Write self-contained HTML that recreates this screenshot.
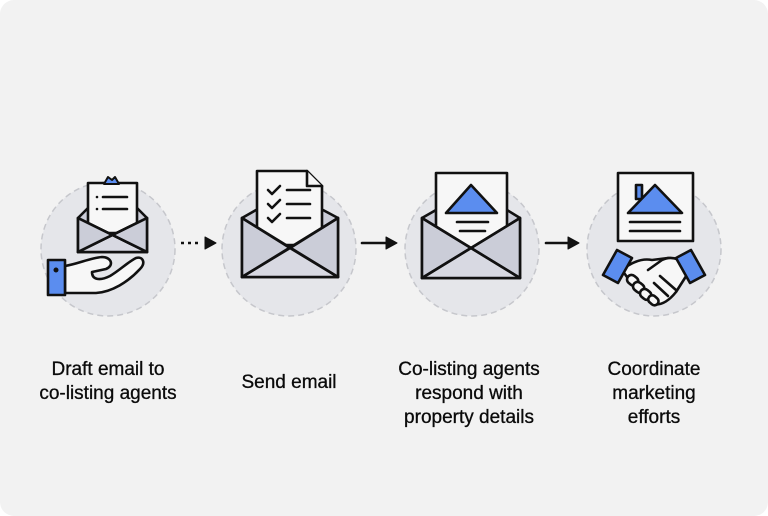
<!DOCTYPE html>
<html><head><style>
html,body{margin:0;padding:0;background:#fff}
.wrap{width:768px;height:516px;background:#f2f2f2;border-radius:14px;position:relative;overflow:hidden;font-family:"Liberation Sans",sans-serif}
svg{position:absolute;left:0;top:0}
.t{position:absolute;width:220px;text-align:center;font-size:19px;line-height:24px;color:#0a0a0a;-webkit-text-stroke:0.3px #0a0a0a}
</style></head><body><div class="wrap">
<svg width="768" height="516" viewBox="0 0 768 516">
<g fill="#e5e6ea" stroke="#c6c7cc" stroke-width="1.5" stroke-dasharray="6 4">
<circle cx="108" cy="249" r="67"/><circle cx="289" cy="249" r="67"/>
<circle cx="472" cy="249" r="67"/><circle cx="654" cy="249" r="67"/>
</g>
<g stroke="#111" stroke-width="2.6" stroke-linejoin="round" stroke-linecap="round">
<!-- icon1 -->
<polygon points="78,218 88,208 137,208 147,218 147,252 78,252" fill="#cbcdd8"/>
<rect x="88" y="183" width="49" height="50" fill="#f7f7f7"/>
<polygon points="104,184 108,177 112,180 115,177 119,184" fill="#5b8def" stroke-width="2"/>
<polygon points="78,218 112.5,235 147,218 147,252 78,252" fill="#cbcdd8"/>
<polygon points="78,252 112.5,235 147,252" fill="#d8d9e2"/>
<line x1="78" y1="218" x2="147" y2="252"/><line x1="147" y1="218" x2="78" y2="252"/>
<line x1="97" y1="197" x2="97" y2="197"/><line x1="103" y1="197" x2="127" y2="197"/>
<line x1="97" y1="209" x2="97" y2="209"/><line x1="103" y1="209" x2="127" y2="209"/>
<path d="M65,266 C78,264 90,258 102,257 C112,257 114,266 106,269 L92,272 C92,280 100,281 110,276 C120,270 128,262 136,258 C143,256 146,263 140,269 C128,282 112,292 96,293 L65,293 Z" fill="#f7f7f7"/>
<rect x="48" y="260" width="17" height="35" fill="#5b8def"/>
<circle cx="56" cy="270" r="1.2" fill="#111"/>
<!-- arrow1 -->
<line x1="181" y1="243" x2="202" y2="243" stroke-dasharray="3 4" stroke-linecap="butt"/>
<polygon points="205,237 216,243 205,249" fill="#111" stroke-width="1"/>
<!-- icon2 -->
<polygon points="242,218 256,210 323,210 338,218 338,277 242,277" fill="#cbcdd8"/>
<path d="M257,245 L257,171 L307,171 L322,186 L322,245 Z" fill="#f7f7f7"/>
<path d="M307,171 L307,186 L322,186" fill="#f7f7f7"/>
<path d="M268,190 l4,4 l8,-8 M268,204 l4,4 l8,-8 M268,218 l4,4 l8,-8" fill="none"/>
<line x1="287" y1="190" x2="310" y2="190"/><line x1="287" y1="204" x2="310" y2="204"/><line x1="287" y1="218" x2="310" y2="218"/>
<polygon points="242,218 290,248 338,218 338,277 242,277" fill="#cbcdd8"/>
<polygon points="242,277 290,248 338,277" fill="#d8d9e2"/>
<line x1="242" y1="218" x2="338" y2="277"/><line x1="338" y1="218" x2="242" y2="277"/>
<!-- arrow2 -->
<line x1="362" y1="243" x2="386" y2="243"/>
<polygon points="386,237 397,243 386,249" fill="#111" stroke-width="1"/>
<!-- icon3 -->
<polygon points="422,218 436,210 507,210 520,218 520,278 422,278" fill="#cbcdd8"/>
<rect x="436" y="173" width="71" height="76" fill="#f7f7f7"/>
<polygon points="446,213 471,185 497,213" fill="#5b8def"/>
<line x1="457" y1="222" x2="488" y2="222"/><line x1="460" y1="231" x2="485" y2="231"/>
<polygon points="422,218 471,248 520,218 520,278 422,278" fill="#cbcdd8"/>
<polygon points="422,278 471,248 520,278" fill="#d8d9e2"/>
<line x1="422" y1="218" x2="520" y2="278"/><line x1="520" y1="218" x2="422" y2="278"/>
<!-- arrow3 -->
<line x1="546" y1="243" x2="568" y2="243"/>
<polygon points="568,237 579,243 568,249" fill="#111" stroke-width="1"/>
<!-- icon4 -->
<rect x="618" y="173" width="75" height="68" fill="#f7f7f7"/>
<rect x="636" y="185" width="6" height="14" fill="#5b8def"/>
<polygon points="628,213 655,185 682,213" fill="#5b8def"/>
<line x1="630" y1="222" x2="680" y2="222"/><line x1="630" y1="231" x2="680" y2="231"/>
<path d="M622,270 C632,262 642,258 652,260 L668,258 C678,258 686,262 690,270 L676,292 C668,302 660,306 652,304 L632,284 Z" fill="#f7f7f7"/>
<path d="M648,270 L662,260 C670,256 678,258 686,264" fill="#f7f7f7"/>
<path d="M660,276 L676,290 M654,283 L668,296" fill="none"/>
<rect x="627" y="276" width="12" height="9" rx="4.5" fill="#f7f7f7" transform="rotate(40 633 280)"/>
<rect x="633" y="283" width="12" height="9" rx="4.5" fill="#f7f7f7" transform="rotate(40 639 287)"/>
<rect x="640" y="290" width="12" height="9" rx="4.5" fill="#f7f7f7" transform="rotate(40 646 294)"/>
<rect x="648" y="296" width="11" height="8" rx="4" fill="#f7f7f7" transform="rotate(40 653 300)"/>
<polygon points="603,275 617,250 632,258 618,283" fill="#5b8def"/>
<polygon points="705,275 691,250 676,258 690,283" fill="#5b8def"/>
</g>
</svg>
<div class="t" style="left:-2px;top:358px">Draft email to<br>co-listing agents</div>
<div class="t" style="left:179px;top:371px">Send email</div>
<div class="t" style="left:359px;top:358px">Co-listing agents<br>respond with<br>property details</div>
<div class="t" style="left:544px;top:358px">Coordinate<br>marketing<br>efforts</div>
</div></body></html>
